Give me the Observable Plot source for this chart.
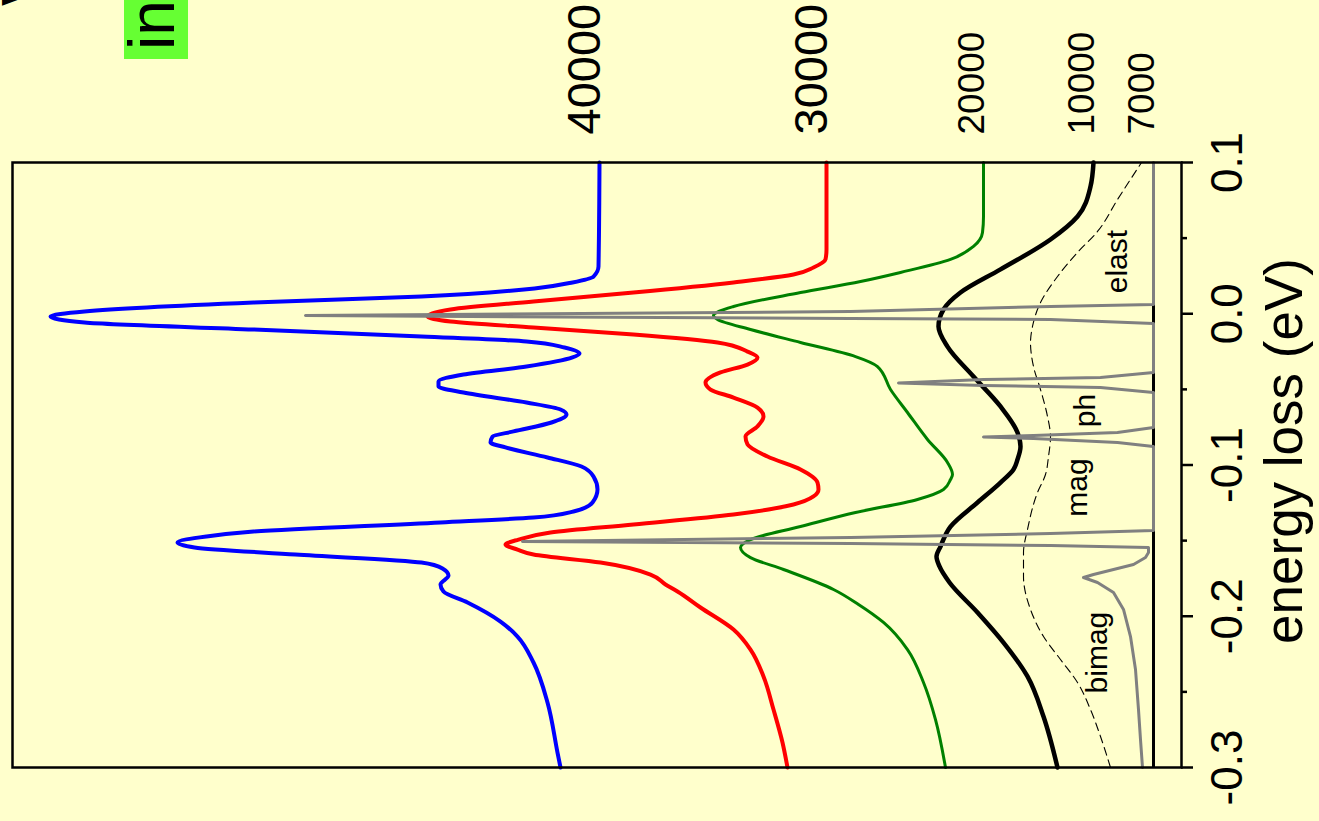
<!DOCTYPE html>
<html>
<head>
<meta charset="utf-8">
<script src="https://cdn.jsdelivr.net/npm/d3@7"></script>
<script src="https://cdn.jsdelivr.net/npm/@observablehq/plot@0.6"></script>
<style>
  html, body { margin: 0; padding: 0; background: #ffffcc; overflow: hidden; width: 1319px; height: 821px; }
  /* The spectra are drawn energy-along-x, then the whole sheet is turned a quarter turn
     so energy runs upward and intensity grows to the left. */
  #stage {
    position: absolute; left: 0; top: 0; width: 821px; height: 1319px;
    transform-origin: 0 0; transform: translate(0px, 821px) rotate(-90deg);
    font-family: "Liberation Sans", Arial, Helvetica, sans-serif;
  }
  #stage svg { position: absolute; left: 0; top: 0; }
  #headline { position: absolute; left: 815px; top: -5px; font-size: 48px; font-weight: bold; line-height: 48px; white-space: nowrap; color: #000; }
  #tag { position: absolute; left: 762px; top: 124px; height: 64px; line-height: 56px; padding: 0 12px 0 9px;
         background: #66ff33; font-size: 64px; white-space: nowrap; color: #000; }
</style>
</head>
<body>
<div id="stage"></div>
<script>
// Energy-loss spectra, [energy (eV), intensity (arb. units, 0 = baseline)]
const spectrum40000 = [
  [0.1000, 554], [0.0312, 555], [0.0246, 560], [0.0207, 581], [0.0167, 619], [0.0114, 732],
  [0.0074, 900], [0.0015, 1069], [-0.0018, 1103], [-0.0058, 1069], [-0.0104, 900], [-0.0150, 732],
  [-0.0183, 627], [-0.0223, 589], [-0.0263, 574], [-0.0289, 581], [-0.0349, 627], [-0.0402, 690],
  [-0.0448, 715], [-0.0481, 715], [-0.0521, 690], [-0.0587, 627], [-0.0633, 593], [-0.0666, 587],
  [-0.0719, 602], [-0.0778, 640], [-0.0812, 661], [-0.0851, 663], [-0.0884, 648], [-0.0950, 606],
  [-0.1010, 572], [-0.1076, 560], [-0.1162, 556], [-0.1248, 561], [-0.1307, 580], [-0.1347, 620],
  [-0.1380, 713], [-0.1440, 900], [-0.1473, 947], [-0.1512, 976], [-0.1545, 959], [-0.1592, 858],
  [-0.1645, 732], [-0.1684, 711], [-0.1731, 705], [-0.1790, 713], [-0.1836, 710], [-0.1909, 686],
  [-0.2035, 653], [-0.2134, 636], [-0.2306, 620], [-0.2570, 606], [-0.2901, 596], [-0.3000, 593]
];
const spectrum30000 = [
  [0.1000, 327], [0.0425, 327], [0.0359, 328], [0.0306, 340], [0.0259, 360], [0.0207, 420],
  [0.0140, 520], [0.0081, 620], [0.0028, 703], [-0.0018, 726], [-0.0051, 703], [-0.0091, 620],
  [-0.0137, 520], [-0.0190, 436], [-0.0250, 406], [-0.0289, 396], [-0.0336, 406], [-0.0388, 433],
  [-0.0455, 448], [-0.0501, 443], [-0.0554, 420], [-0.0620, 396], [-0.0679, 390], [-0.0745, 396],
  [-0.0812, 408], [-0.0864, 406], [-0.0944, 386], [-0.1030, 353], [-0.1116, 336], [-0.1162, 335],
  [-0.1208, 340], [-0.1261, 360], [-0.1327, 420], [-0.1393, 520], [-0.1446, 603], [-0.1493, 635],
  [-0.1526, 648], [-0.1559, 636], [-0.1592, 620], [-0.1645, 553], [-0.1724, 503], [-0.1790, 488],
  [-0.1836, 476], [-0.1942, 453], [-0.2088, 420], [-0.2220, 403], [-0.2398, 390], [-0.2617, 380],
  [-0.2835, 371], [-0.3000, 366]
];
const spectrum20000 = [
  [0.1000, 170], [0.0643, 170], [0.0537, 171], [0.0445, 180], [0.0359, 203], [0.0273, 253],
  [0.0213, 293], [0.0140, 353], [0.0048, 420], [-0.0012, 440], [-0.0038, 436], [-0.0104, 403],
  [-0.0190, 353], [-0.0283, 298], [-0.0349, 276], [-0.0501, 263], [-0.0653, 246], [-0.0831, 226],
  [-0.0983, 206], [-0.1063, 201], [-0.1096, 203], [-0.1162, 210], [-0.1228, 236], [-0.1314, 298],
  [-0.1407, 353], [-0.1493, 403], [-0.1545, 413], [-0.1612, 403], [-0.1691, 370], [-0.1823, 320],
  [-0.1922, 295], [-0.2041, 270], [-0.2220, 246], [-0.2438, 230], [-0.2683, 218], [-0.3000, 208]
];
const spectrum10000 = [
  [0.1000, 60], [0.0841, 63], [0.0643, 76], [0.0491, 103], [0.0293, 153], [0.0140, 193],
  [0.0028, 210], [-0.0084, 215], [-0.0217, 206], [-0.0415, 180], [-0.0613, 153], [-0.0785, 136],
  [-0.0878, 133], [-0.0964, 136], [-0.1030, 140], [-0.1116, 153], [-0.1248, 176], [-0.1407, 203],
  [-0.1539, 213], [-0.1605, 217], [-0.1671, 214], [-0.1777, 204], [-0.1975, 176], [-0.2174, 150],
  [-0.2398, 126], [-0.2663, 110], [-0.3000, 96]
];
// Lowest curve: elastic, phonon and magnon lines plus the bimagnon tail
const spectrum7000 = [
  [0.1000, 0], [0.0061, 0], [0.0048, 103], [0.0015, 303], [-0.0012, 848], [-0.0031, 303],
  [-0.0038, 103], [-0.0064, 0], [-0.0388, 0], [-0.0421, 53], [-0.0435, 170], [-0.0458, 255],
  [-0.0474, 170], [-0.0488, 53], [-0.0521, 0], [-0.0752, 0], [-0.0785, 36], [-0.0805, 120],
  [-0.0815, 170], [-0.0825, 120], [-0.0851, 36], [-0.0878, 0], [-0.1433, 0], [-0.1453, 103],
  [-0.1479, 303], [-0.1506, 631], [-0.1519, 303], [-0.1532, 103], [-0.1545, 5], [-0.1579, 5],
  [-0.1612, 8], [-0.1658, 20], [-0.1691, 40], [-0.1724, 60], [-0.1744, 70], [-0.1777, 56],
  [-0.1843, 40], [-0.1955, 30], [-0.2134, 23], [-0.2352, 18], [-0.2617, 15], [-0.2815, 13],
  [-0.3000, 11]
];
// Thin dashed reference profile
const dashedProfile = [
  [0.1000, 12], [0.0755, 36], [0.0544, 56], [0.0405, 76], [0.0246, 96], [0.0074, 113],
  [-0.0084, 121], [-0.0190, 123], [-0.0349, 120], [-0.0501, 113], [-0.0679, 106], [-0.0812, 103],
  [-0.0944, 105], [-0.1063, 108], [-0.1182, 116], [-0.1426, 126], [-0.1579, 130], [-0.1737, 130],
  [-0.1955, 123], [-0.2134, 110], [-0.2286, 93], [-0.2438, 76], [-0.2617, 63], [-0.2795, 53],
  [-0.3000, 43]
];

const curveLabels = ["40000", "30000", "20000", "10000", "7000"];
const componentNames = ["elast", "ph", "mag", "bimag"];
const componentEnergy = [0.0345, -0.064, -0.1149, -0.224];
const componentLevel = [27, 59, 67, 47];
const energyTicks = [-0.3, -0.2, -0.1, 0.0, 0.1];
const minorEnergyTicks = [-0.25, -0.15, -0.05, 0.05];

const series = [
  {label: curveLabels[0], data: spectrum40000, stroke: "#0000ff", width: 4, curve: "monotone-x", size: 47},
  {label: curveLabels[1], data: spectrum30000, stroke: "#ff0000", width: 4, curve: "monotone-x", size: 47},
  {label: curveLabels[2], data: spectrum20000, stroke: "#008000", width: 3, curve: "monotone-x", size: 37},
  {label: curveLabels[3], data: spectrum10000, stroke: "#000000", width: 4.5, curve: "monotone-x", size: 37},
  {label: curveLabels[4], data: spectrum7000, stroke: "#808080", width: 3, curve: "linear", size: 37}
];

const ends = series.map(s => ({label: s.label, size: s.size, e: 0.1, i: s.data.find(d => d[0] === 0.1)[1]}));
const components = componentNames.map((name, k) => ({name, e: componentEnergy[k], i: componentLevel[k]}));

const lineMarks = series.map(s =>
  Plot.line(d3.sort(s.data, d => d[0]), {
    x: d => d[0], y: d => d[1], stroke: s.stroke, strokeWidth: s.width, curve: s.curve
  })
);

const chart = Plot.plot({
  width: 821,
  height: 1319,
  marginLeft: 53,
  marginRight: 163,
  marginTop: 12,
  marginBottom: 138,
  x: {domain: [-0.3, 0.1]},
  y: {domain: [-28, 1141], axis: null},
  style: {background: "transparent", fontFamily: "Liberation Sans, Arial, Helvetica, sans-serif", color: "#000"},
  marks: [
    Plot.ruleY([0], {stroke: "#000", strokeWidth: 3}),
    Plot.line(d3.sort(dashedProfile, d => d[0]), {
      x: d => d[0], y: d => d[1], stroke: "#000", strokeWidth: 1.1, strokeDasharray: "8,5", curve: "monotone-x"
    }),
    ...lineMarks,
    Plot.frame({stroke: "#000", strokeWidth: 2.5}),
    Plot.axisX({ticks: energyTicks, tickSize: 12, tickPadding: 17, strokeWidth: 2.5,
      tickFormat: d => d.toFixed(1), fontSize: 44, label: null}),
    Plot.axisX({ticks: minorEnergyTicks, tickSize: 6, strokeWidth: 2.5, tickFormat: () => "", label: null}),
    Plot.text(["energy loss (eV)"], {text: d => d, frameAnchor: "bottom", dx: 14, dy: 120,
      lineAnchor: "bottom", fontSize: 53}),
    Plot.text(ends.filter(d => d.size > 40), {x: "e", y: "i", text: "label", textAnchor: "start",
      lineAnchor: "bottom", dx: 28, fontSize: 47}),
    Plot.text(ends.filter(d => d.size < 40), {x: "e", y: "i", text: "label", textAnchor: "start",
      lineAnchor: "bottom", dx: 28, fontSize: 37}),
    Plot.text(components, {x: "e", y: "i", text: "name", lineAnchor: "bottom", fontSize: 30})
  ]
});

const stage = document.getElementById("stage");
stage.appendChild(chart);
const headline = document.createElement("div");
headline.id = "headline";
headline.textContent = "V";
stage.appendChild(headline);
const tag = document.createElement("div");
tag.id = "tag";
tag.textContent = "incoherent";
stage.appendChild(tag);
</script>
</body>
</html>
